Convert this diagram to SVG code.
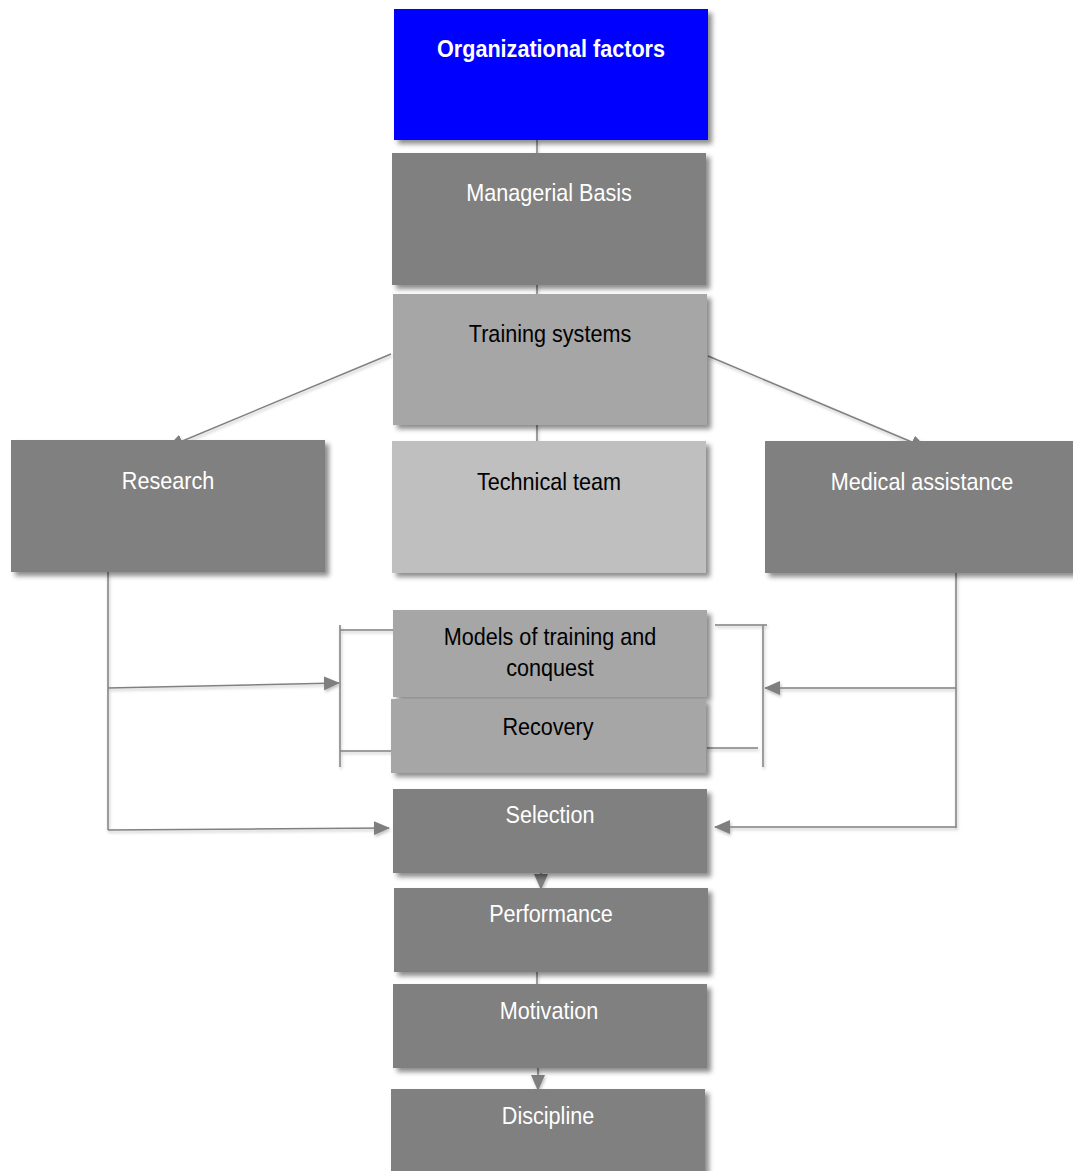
<svg xmlns="http://www.w3.org/2000/svg" width="1073" height="1171" viewBox="0 0 1073 1171">
  <defs>
    <filter id="shadow" x="-10%" y="-10%" width="120%" height="130%">
      <feDropShadow dx="4" dy="4" stdDeviation="2.5" flood-color="#000" flood-opacity="0.45"/>
    </filter>
    <filter id="lshadow" x="-10%" y="-50%" width="120%" height="200%">
      <feDropShadow dx="1" dy="2" stdDeviation="1.5" flood-color="#000" flood-opacity="0.25"/>
    </filter>
    <marker id="arrow" viewBox="0 0 16 14" refX="15" refY="7" markerWidth="16" markerHeight="14" markerUnits="userSpaceOnUse" orient="auto">
      <path d="M0,0 L16,7 L0,14 Z" fill="#7f7f7f"/>
    </marker>
  </defs>
  <style>
    .box { filter: url(#shadow); }
    .blue { fill: #0000ff; }
    .dark { fill: #808080; }
    .mid { fill: #a6a6a6; }
    .light { fill: #bfbfbf; }
    text { font-family: "Liberation Sans Narrow", "Arial Narrow", "Liberation Sans", Arial, sans-serif; font-size: 24px; text-anchor: middle; }
    .w { fill: #ffffff; }
    .k { fill: #000000; }
    .b { font-weight: bold; }
    .ln { fill: none; stroke: #808080; stroke-width: 1.5; }
    .ar { marker-end: url(#arrow); }
  </style>

  <!-- connectors -->
  <g id="connectors" filter="url(#lshadow)">
    <line class="ln" x1="537" y1="140" x2="537" y2="153"/>
    <line class="ln" x1="537" y1="285" x2="537" y2="294"/>
    <line class="ln" x1="537" y1="425" x2="537" y2="441"/>
    <line class="ln ar" x1="391" y1="354" x2="168" y2="447"/>
    <line class="ln ar" x1="708" y1="356" x2="926" y2="448"/>
    <!-- Research side -->
    <polyline class="ln" points="108,572 108,830"/>
    <line class="ln ar" x1="108" y1="688" x2="339" y2="683"/>
    <line class="ln ar" x1="108" y1="830" x2="389" y2="828"/>
    <polyline class="ln" points="393,630 340,630"/>
    <line class="ln" x1="340" y1="625" x2="340" y2="767"/>
    <polyline class="ln" points="340,751 392,751"/>
    <!-- Medical assistance side -->
    <polyline class="ln" points="956,573 956,828"/>
    <line class="ln ar" x1="956" y1="688" x2="765" y2="688"/>
    <line class="ln ar" x1="956" y1="827" x2="715" y2="827"/>
    <line class="ln" x1="715" y1="625" x2="767" y2="625"/>
    <line class="ln" x1="763" y1="625" x2="763" y2="767"/>
    <line class="ln" x1="707" y1="748" x2="758" y2="748"/>
    <!-- lower chain -->
    <line class="ln ar" x1="541" y1="873" x2="541" y2="889"/>
    <line class="ln" x1="537" y1="972" x2="537" y2="984"/>
    <line class="ln ar" x1="538" y1="1068" x2="538" y2="1090"/>
  </g>

  <g id="n-org">
    <rect class="box blue" x="394" y="9" width="314" height="131"/>
    <text class="w b" transform="translate(551 57) scale(0.9 1)">Organizational factors</text>
  </g>
  <g id="n-managerial">
    <rect class="box dark" x="392" y="153" width="314" height="132"/>
    <text class="w" transform="translate(549 201) scale(0.9 1)">Managerial Basis</text>
  </g>
  <g id="n-training">
    <rect class="box mid" x="393" y="294" width="314" height="131"/>
    <text class="k" transform="translate(550 342) scale(0.9 1)">Training systems</text>
  </g>
  <g id="n-research">
    <rect class="box dark" x="11" y="440" width="314" height="132"/>
    <text class="w" transform="translate(168 489) scale(0.9 1)">Research</text>
  </g>
  <g id="n-technical">
    <rect class="box light" x="392" y="441" width="314" height="132"/>
    <text class="k" transform="translate(549 490) scale(0.9 1)">Technical team</text>
  </g>
  <g id="n-medical">
    <rect class="box dark" x="765" y="441" width="310" height="132"/>
    <text class="w" transform="translate(922 490) scale(0.9 1)">Medical assistance</text>
  </g>
  <g id="n-models">
    <rect class="box mid" x="393" y="610" width="314" height="87"/>
    <text class="k" transform="translate(550 645) scale(0.9 1)">Models of training and</text>
    <text class="k" transform="translate(550 676) scale(0.9 1)">conquest</text>
  </g>
  <g id="n-recovery">
    <rect class="box mid" x="391" y="699" width="315" height="74"/>
    <text class="k" transform="translate(548 735) scale(0.9 1)">Recovery</text>
  </g>
  <g id="n-selection">
    <rect class="box dark" x="393" y="789" width="314" height="84"/>
    <text class="w" transform="translate(550 823) scale(0.9 1)">Selection</text>
  </g>
  <g id="n-performance">
    <rect class="box dark" x="394" y="888" width="314" height="84"/>
    <text class="w" transform="translate(551 922) scale(0.9 1)">Performance</text>
  </g>
  <g id="n-motivation">
    <rect class="box dark" x="393" y="984" width="314" height="84"/>
    <text class="w" transform="translate(549 1019) scale(0.9 1)">Motivation</text>
  </g>
  <g id="n-discipline">
    <rect class="box dark" x="391" y="1089" width="314" height="90"/>
    <text class="w" transform="translate(548 1124) scale(0.9 1)">Discipline</text>
  </g>
</svg>
